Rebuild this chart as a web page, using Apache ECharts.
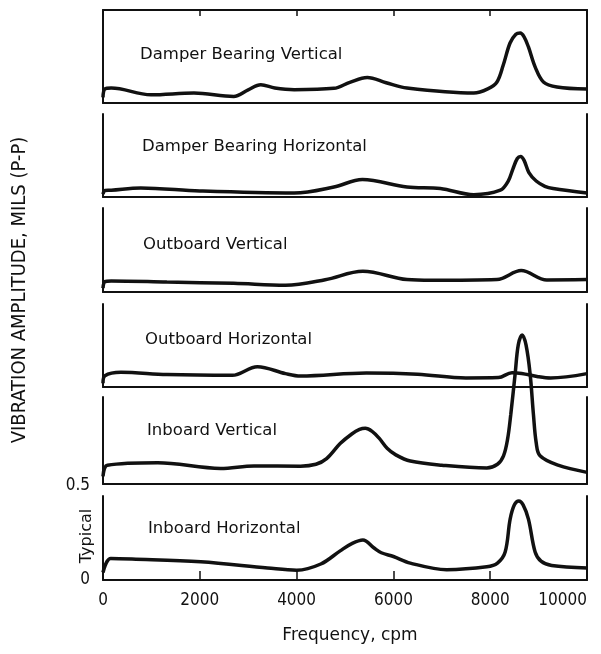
<!DOCTYPE html>
<html>
<head>
<meta charset="utf-8">
<script src="https://cdn.jsdelivr.net/npm/echarts@6/dist/echarts.min.js"></script>
<style>
  html, body { margin: 0; padding: 0; background: #fff; }
  #chart { width: 601px; height: 654px; }
</style>
</head>
<body>
<div id="chart"></div>
<script>
// frequency (cpm), amplitude (mils p-p)
const panelNames = [
  'Damper Bearing Vertical',
  'Damper Bearing Horizontal',
  'Outboard Vertical',
  'Outboard Horizontal',
  'Inboard Vertical',
  'Inboard Horizontal'
];

const damperVert = [[0,0.03],[40,0.075],[170,0.08],[990,0.044],[1880,0.053],[2700,0.035],[3000,0.07],[3260,0.097],[3550,0.08],[3950,0.071],[4770,0.078],[5100,0.11],[5460,0.136],[5850,0.108],[6280,0.08],[7660,0.053],[7950,0.075],[8140,0.112],[8270,0.202],[8410,0.319],[8530,0.366],[8620,0.372],[8700,0.352],[8790,0.298],[8930,0.191],[9100,0.112],[9380,0.085],[10000,0.074]];
const damperHoriz = [[0,0.015],[40,0.035],[170,0.036],[780,0.048],[2000,0.032],[3950,0.021],[4770,0.053],[5360,0.093],[6280,0.053],[6970,0.045],[7660,0.012],[8210,0.036],[8370,0.083],[8470,0.15],[8560,0.205],[8630,0.216],[8700,0.195],[8800,0.13],[8950,0.085],[9130,0.057],[9300,0.045],[10000,0.021]];
const outVert = [[0,0.02],[40,0.055],[170,0.059],[1320,0.053],[2700,0.046],[3770,0.036],[4590,0.065],[5370,0.11],[6280,0.066],[6790,0.062],[8140,0.066],[8640,0.114],[9170,0.064],[10000,0.066]];
const outHoriz = [[0,0.02],[40,0.06],[370,0.078],[1320,0.066],[2670,0.062],[3190,0.108],[3770,0.071],[4080,0.058],[5440,0.074],[6500,0.068],[7500,0.048],[8170,0.05],[8450,0.076],[8650,0.072],[8990,0.055],[9250,0.048],[10000,0.071]];
const inVert = [[0,0.04],[90,0.10],[1130,0.113],[2430,0.083],[3120,0.096],[4080,0.095],[4400,0.105],[4620,0.135],[4900,0.215],[5140,0.266],[5300,0.29],[5420,0.296],[5560,0.28],[5700,0.245],[5870,0.19],[6050,0.155],[6350,0.122],[7000,0.1],[7930,0.085],[8150,0.105],[8275,0.15],[8360,0.24],[8425,0.37],[8515,0.585],[8580,0.74],[8660,0.793],[8740,0.74],[8825,0.585],[8893,0.37],[8950,0.22],[9030,0.15],[9400,0.1],[10000,0.062]];
const inHoriz = [[0,0.04],[160,0.115],[600,0.112],[2020,0.097],[3400,0.064],[4000,0.052],[4500,0.085],[4900,0.155],[5150,0.195],[5370,0.213],[5600,0.17],[5750,0.145],[6000,0.125],[6350,0.09],[7100,0.055],[7930,0.07],[8150,0.09],[8309,0.149],[8412,0.324],[8500,0.40],[8590,0.42],[8680,0.40],[8790,0.324],[8928,0.149],[9050,0.1],[9270,0.077],[10000,0.064]];

const xTicks = [0, 2000, 4000, 6000, 8000, 10000];
const scaleTicks = [0, 0.5];

const panelData = [damperVert, damperHoriz, outVert, outHoriz, inVert, inHoriz];

// layout of the stacked strips
const panelTop = [10, 114, 208, 304, 397, 496];
const panelHeight = [93, 83, 84, 83, 87, 84];
const pxPerMil = 188;
const ink = '#111';
const narrow = "'DejaVu Sans Condensed', 'DejaVu Sans', sans-serif";
const wide = "'DejaVu Sans', sans-serif";

const chart = echarts.init(document.getElementById('chart'));

const grid = [];
const xAxis = [];
const yAxis = [];
const series = [];
const graphic = [];

panelNames.forEach((name, i) => {
  grid.push({ left: 103, right: 14, top: panelTop[i], height: panelHeight[i], outerBoundsMode: 'none', containLabel: false });
  const last = i === panelNames.length - 1;
  xAxis.push({
    type: 'value', gridIndex: i, min: xTicks[0], max: xTicks[xTicks.length - 1], interval: 2000,
    axisLine: { show: true, onZero: false, lineStyle: { color: ink, width: 2 } },
    axisTick: { show: last, inside: true, length: 9, lineStyle: { color: ink, width: 1.5 } },
    axisLabel: {
      show: last, color: ink, fontFamily: narrow, fontSize: 17, margin: 12, hideOverlap: false,
      alignMaxLabel: 'right', formatter: (v) => String(v)
    },
    splitLine: { show: false }
  });
  const yMax = panelHeight[i] / pxPerMil;
  yAxis.push({
    type: 'value', gridIndex: i, min: 0, max: yMax,
    axisLine: { show: true, onZero: false, lineStyle: { color: ink, width: 2 } },
    axisTick: { show: false }, axisLabel: { show: false }, splitLine: { show: false }
  });
  yAxis.push({
    type: 'value', gridIndex: i, min: 0, max: yMax, position: 'right',
    axisLine: { show: true, onZero: false, lineStyle: { color: ink, width: 2 } },
    axisTick: { show: false }, axisLabel: { show: false }, splitLine: { show: false }
  });
  series.push({
    type: 'line', name: name, xAxisIndex: i, yAxisIndex: i * 2,
    data: panelData[i], showSymbol: false, smooth: 0.35, clip: false,
    lineStyle: { color: ink, width: 3.5 }, z: 5
  });
});

// top frame of the first strip with its small ticks
xAxis.push({
  type: 'value', gridIndex: 0, position: 'top', min: 0, max: 10000, interval: 2000,
  axisLine: { show: true, onZero: false, lineStyle: { color: ink, width: 2 } },
  axisTick: { show: true, inside: true, length: 6, lineStyle: { color: ink, width: 1.5 } },
  axisLabel: { show: false }, splitLine: { show: false }
});

// amplitude scale for the "typical" strip
const sg = grid.length;
grid.push({ left: 103, right: 14, top: 486, height: 94, outerBoundsMode: 'none', containLabel: false });
xAxis.push({ type: 'value', gridIndex: sg, min: 0, max: 10000, show: false });
yAxis.push({
  type: 'value', gridIndex: sg, min: scaleTicks[0], max: scaleTicks[1], interval: 0.5,
  axisLine: { show: false }, axisTick: { show: false }, splitLine: { show: false },
  axisLabel: { color: ink, fontFamily: narrow, fontSize: 17, margin: 13 }
});

const labelPos = [[140, 55], [142, 147], [143, 245], [145, 340], [147, 431], [148, 529]];
panelNames.forEach((name, i) => {
  graphic.push({
    type: 'text', x: labelPos[i][0], y: labelPos[i][1],
    style: { text: name, fill: ink, font: '500 16.5px ' + wide, verticalAlign: 'middle' }
  });
});
graphic.push({
  type: 'text', x: 20, y: 290, rotation: Math.PI / 2,
  style: { text: 'VIBRATION AMPLITUDE, MILS (P-P)', fill: ink, font: '20px ' + narrow, align: 'center', verticalAlign: 'middle' }
});
graphic.push({
  type: 'text', x: 87, y: 536, rotation: Math.PI / 2,
  style: { text: 'Typical', fill: ink, font: '16px ' + wide, align: 'center', verticalAlign: 'middle' }
});
graphic.push({
  type: 'text', x: 350, y: 636,
  style: { text: 'Frequency, cpm', fill: ink, font: '17px ' + wide, align: 'center', verticalAlign: 'middle' }
});

chart.setOption({
  animation: false,
  backgroundColor: '#fff',
  grid: grid,
  xAxis: xAxis,
  yAxis: yAxis,
  series: series,
  graphic: graphic
});
</script>
</body>
</html>
